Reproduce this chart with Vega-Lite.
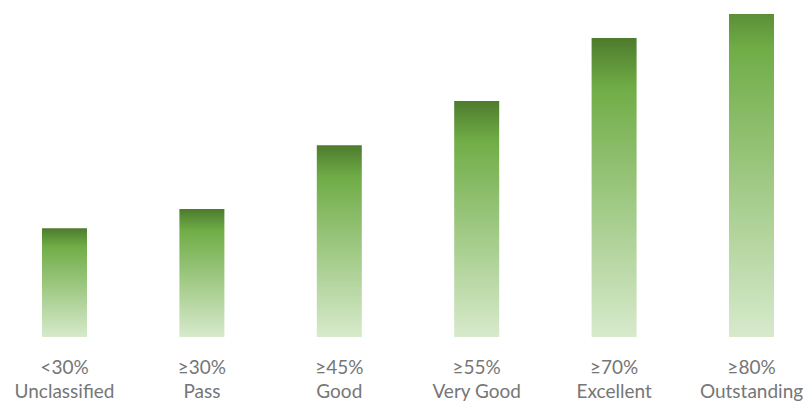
{
  "$schema": "https://vega.github.io/schema/vega-lite/v6.json",
  "width": 809,
  "height": 323,
  "autosize": {"type": "none"},
  "padding": {"left": 0, "top": 14, "right": 0, "bottom": 64},
  "background": "white",
  "config": {"view": {"stroke": null}},
  "data": {
    "values": [
      {"band": "<30%|Unclassified", "value": 33.7},
      {"band": "≥30%|Pass", "value": 39.6},
      {"band": "≥45%|Good", "value": 59.4},
      {"band": "≥55%|Very Good", "value": 73.1},
      {"band": "≥70%|Excellent", "value": 92.6},
      {"band": "≥80%|Outstanding", "value": 107.4}
    ]
  },
  "mark": {
    "type": "bar",
    "clip": true,
    "width": {"band": 0.3275},
    "color": {
      "gradient": "linear",
      "x1": 0, "y1": 0, "x2": 0, "y2": 1,
      "stops": [
        {"offset": 0, "color": "#4d7b2d"},
        {"offset": 0.17, "color": "#70ad47"},
        {"offset": 1, "color": "#d7eacc"}
      ]
    }
  },
  "encoding": {
    "x": {
      "field": "band",
      "type": "nominal",
      "sort": null,
      "scale": {"range": [-4.2, 820.2], "paddingInner": 0, "paddingOuter": 0},
      "axis": {
        "title": null,
        "domain": false,
        "ticks": false,
        "grid": false,
        "labelAngle": 0,
        "labelExpr": "split(datum.label, '|')",
        "labelFont": "Lato",
        "labelFontSize": 19,
        "labelFontWeight": "normal",
        "labelColor": "#767676",
        "labelLineHeight": 24,
        "labelPadding": 21,
        "labelBaseline": "top",
        "labelOverlap": false,
        "labelBound": false
      }
    },
    "y": {
      "field": "value",
      "type": "quantitative",
      "scale": {"domain": [0, 100], "nice": false},
      "axis": null
    }
  }
}
